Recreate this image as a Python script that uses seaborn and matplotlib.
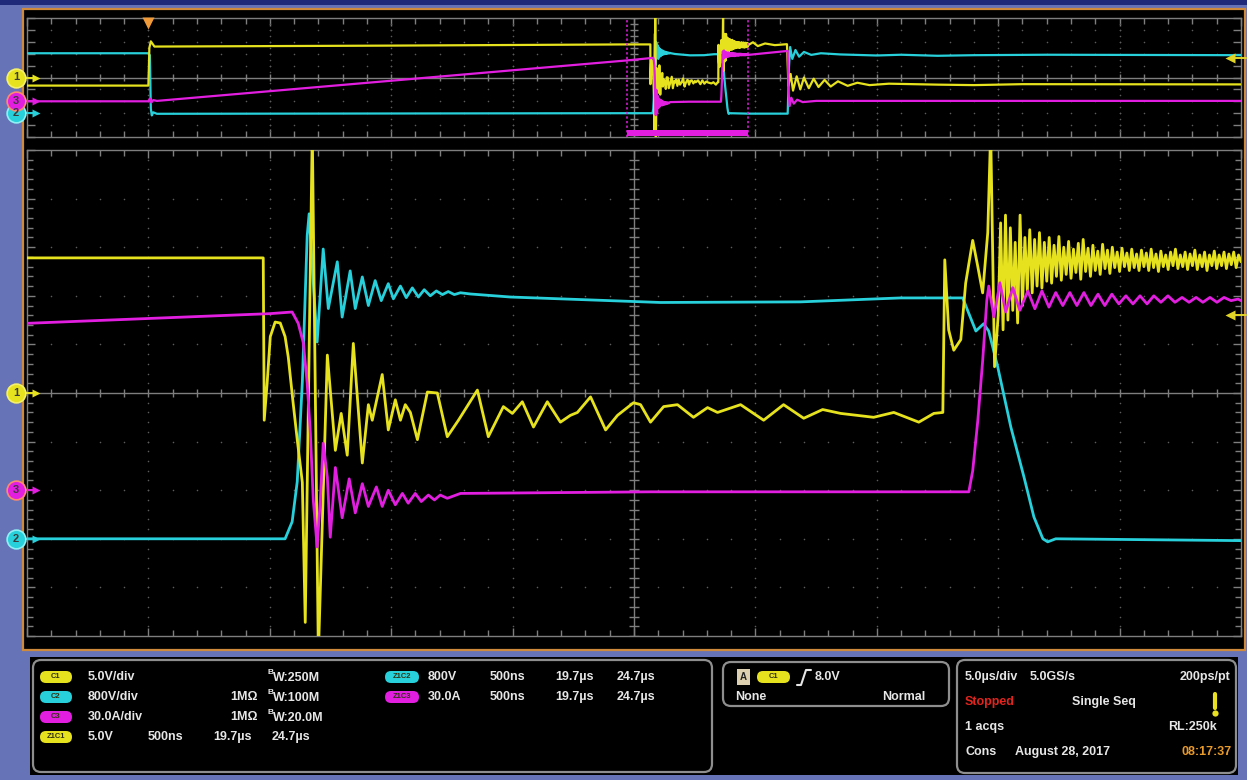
import matplotlib
matplotlib.use("Agg")
import matplotlib.pyplot as plt
import matplotlib.transforms as mtransforms
from matplotlib.patches import FancyBboxPatch, Rectangle
from matplotlib.ticker import MultipleLocator, NullLocator
import numpy as np
import pandas as pd
import seaborn as sns

sns.set_style("dark")
plt.rcParams["font.family"] = ["Liberation Sans", "DejaVu Sans"]

# ---------------------------------------------------------------------------
# Acquisition settings
# ---------------------------------------------------------------------------
ch_scale = {"C1": 5.0, "C2": 800.0, "C3": 30.0}        # V/div, V/div, A/div
ch_offset_div = {"C1": 0.0, "C2": -3.0, "C3": -2.0}    # ground marker position
ch_color = {"C1": "#e6e21e", "C2": "#27d0da", "C3": "#e21fe0"}
record_us = (-5.0, 45.0)            # 5 us/div, trigger one division in
zoom_start_us, zoom_stop_us = 19.7, 24.7
zoom_span_ns = 5000.0               # 500 ns/div
trigger_level_v = 8.0

# ---------------------------------------------------------------------------
# Zoomed window (time in ns from zoom start)
# ---------------------------------------------------------------------------
# C1: gate voltage [V]
c1_edges = [
    (0, 13.9), (973, 13.9), (977, -2.8), (989, 1.0), (1002, 5.8), (1022, 7.3),
    (1043, 7.2), (1063, 5.8), (1076, 3.7), (1096, -1.0), (1113, -4.8),
    (1134, -9.2), (1146, -23.6), (1175, 27.0), (1200, -27.0), (1237, 3.9),
    (1270, -5.9), (1294, -2.1), (1319, -6.4), (1344, 5.1), (1381, -7.2),
    (1406, -1.2), (1422, -2.8), (1463, 1.9), (1488, -3.8), (1517, -0.7),
    (1538, -2.8), (1558, -1.2), (1579, -2.0), (1608, -4.8), (1649, 0.1),
    (1690, 0.0), (1731, -4.5), (1777, -2.8), (1855, 0.3), (1900, -4.5),
    (1962, -1.4), (1999, -2.1), (2040, -0.9), (2086, -3.5), (2143, -0.9),
    (2197, -3.0), (2238, -2.3), (2267, -2.0), (2321, -0.4), (2383, -3.8),
    (2432, -2.3), (2498, -1.0), (2527, -1.2), (2568, -3.0), (2622, -1.4),
    (2679, -1.2), (2745, -2.5), (2803, -1.5), (2844, -2.0), (2939, -1.2),
    (3034, -2.8), (3116, -1.2), (3199, -2.6), (3277, -1.7), (3351, -2.1),
    (3487, -2.5), (3570, -2.0), (3673, -3.0), (3735, -2.1), (3772, -2.0),
    (3780, 13.7), (3796, 6.5), (3817, 4.4), (3846, 5.5), (3866, 11.3),
    (3895, 15.7), (3916, 13.0), (3936, 10.3), (3957, 16.5), (3969, 27.0),
    (3985, 2.7),
]
c1_ring = [
    (4000, 8.0), (4010, 17.5), (4020, 6.5), (4030, 18.3), (4040, 7.5),
    (4050, 17.0), (4060, 8.5), (4070, 15.5), (4080, 7.2), (4090, 18.3),
    (4100, 9.0), (4110, 16.0), (4120, 10.5), (4130, 16.8), (4140, 10.3),
    (4150, 15.8), (4160, 11.0), (4170, 16.5), (4180, 10.8), (4190, 15.5),
    (4200, 11.5), (4210, 16.0), (4220, 11.3), (4230, 15.2), (4240, 12.0),
    (4250, 16.1), (4260, 11.6), (4270, 15.0), (4280, 12.2), (4290, 15.6),
    (4300, 11.8), (4310, 14.8), (4320, 12.4), (4330, 15.4), (4340, 11.7),
    (4350, 15.8), (4360, 12.5), (4370, 14.9), (4380, 12.0), (4390, 15.2),
    (4400, 12.6), (4410, 14.6), (4420, 12.2), (4430, 15.3), (4440, 12.8),
    (4450, 14.7), (4460, 12.3), (4470, 15.0), (4480, 12.9), (4490, 14.5),
    (4500, 12.5), (4510, 14.9), (4520, 13.0), (4530, 14.4), (4540, 12.6),
    (4550, 14.8), (4560, 12.9), (4570, 14.3), (4580, 12.6), (4590, 14.7),
    (4600, 13.0), (4610, 14.4), (4620, 12.6), (4630, 14.8), (4640, 12.9),
    (4650, 14.3), (4660, 12.5), (4670, 14.6), (4680, 13.0), (4690, 14.2),
    (4700, 12.7), (4710, 14.5), (4720, 13.1), (4730, 14.8), (4740, 12.8),
    (4750, 14.2), (4760, 13.0), (4770, 14.5), (4780, 12.7), (4790, 14.3),
    (4800, 13.1), (4810, 14.7), (4820, 12.7), (4830, 14.2), (4840, 13.0),
    (4850, 14.5), (4860, 12.6), (4870, 14.2), (4880, 13.1), (4890, 14.6),
    (4900, 12.8), (4910, 14.2), (4920, 13.1), (4930, 14.5), (4940, 12.8),
    (4950, 14.3), (4960, 13.2), (4970, 14.5), (4980, 12.9), (4990, 14.2),
    (5000, 13.5),
]
# C2: drain-source voltage [V]
c2_zoom = [
    (0, 0), (1063, 0), (1092, 280), (1113, 940), (1134, 2580), (1154, 4990),
    (1162, 5350), (1179, 4230), (1195, 3240), (1220, 4770), (1241, 3790),
    (1278, 4560), (1298, 3650), (1331, 4410), (1352, 3790), (1381, 4310),
    (1406, 3840), (1434, 4250), (1459, 3920), (1488, 4200), (1509, 3950),
    (1538, 4160), (1562, 3970), (1587, 4130), (1612, 3980), (1636, 4100),
    (1661, 4000), (1686, 4080), (1711, 4020), (1735, 4070), (1760, 4020),
    (1785, 4050), (1826, 4030), (1991, 3980), (2609, 3890), (3186, 3900),
    (3598, 3965), (3854, 3965), (3875, 3750), (3908, 3420), (3940, 3540),
    (3961, 3420), (3998, 2830), (4052, 1840), (4106, 1020), (4147, 360),
    (4184, 0), (4204, -50), (4237, 0), (5000, -30),
]
# C3: drain current [A]
c3_zoom = [
    (0, 103), (1002, 109), (1092, 110), (1117, 103), (1138, 91), (1154, 66),
    (1167, 35), (1179, -6), (1195, -35), (1208, -6), (1220, 29), (1237, 8),
    (1249, -29), (1270, 14), (1298, -17), (1327, 7), (1352, -14), (1381, 4),
    (1406, -10), (1439, 2), (1463, -10), (1488, 0), (1517, -9), (1546, -2),
    (1570, -8), (1599, -2), (1624, -7), (1653, -3), (1678, -6), (1702, -3),
    (1731, -5), (1785, -2), (2568, -1), (3879, -1), (3895, 12), (3916, 43),
    (3936, 80), (3953, 117), (3961, 126), (3982, 107), (4007, 128),
    (4031, 110), (4060, 125), (4089, 111), (4122, 123), (4151, 112),
    (4180, 123), (4209, 113), (4237, 122), (4266, 114), (4295, 122),
    (4324, 114), (4353, 122), (4382, 114), (4411, 121), (4439, 114),
    (4468, 121), (4497, 115), (4526, 120), (4555, 115), (4584, 120),
    (4613, 115), (4641, 120), (4670, 116), (4699, 120), (4728, 116),
    (4757, 119), (4786, 116), (4815, 119), (4843, 116), (4872, 119),
    (4901, 116), (4930, 119), (4959, 117), (4988, 118), (5000, 117),
]

# ---------------------------------------------------------------------------
# Full record outside the zoom window (time in us from trigger)
# ---------------------------------------------------------------------------
ov_c1_pre = [(-5.0, -3.4), (0.0, -3.4), (0.04, 12.5), (0.1, 15.2),
             (0.25, 13.0), (10.0, 13.4), (19.7, 13.9)]
ov_c1_post = [(24.7, 13.6), (24.9, 14.8), (25.1, 13.2), (25.4, 14.3),
              (25.8, 13.6), (26.3, 14.0), (26.36, -3.5), (26.45, 1.5),
              (26.55, -5.5), (26.7, 0.5), (26.85, -5.0), (27.0, 0.0),
              (27.2, -4.5), (27.4, -0.5), (27.6, -4.0), (27.85, -1.0),
              (28.1, -3.8), (28.4, -1.6), (28.8, -3.5), (29.2, -2.2),
              (29.7, -3.2), (30.5, -2.6), (32.5, -3.0), (34.0, -3.2),
              (36.0, -2.8), (45.0, -2.9)]
ov_c2_pre = [(-5.0, 4030), (0.0, 4030), (0.06, 3900), (0.1, 300),
             (0.14, -150), (0.2, 60), (0.35, -40), (19.7, 0)]
ov_c2_post = [(24.7, -30), (26.33, -30), (26.38, 3000), (26.43, 4450),
              (26.52, 3650), (26.65, 4250), (26.8, 3800), (27.0, 4120),
              (27.3, 3920), (27.7, 4030), (28.5, 3950), (30.0, 3880),
              (31.0, 3930), (32.5, 3860), (34.0, 3900), (37.0, 3930),
              (45.0, 3900)]
ov_c3_pre = [(-5.0, 0.0), (0.0, 0.0), (0.06, 7.0), (0.12, -3.0),
             (0.2, 3.0), (0.35, 1.0), (19.7, 103)]
ov_c3_post = [(24.7, 117), (26.33, 127), (26.37, 20), (26.41, -12),
              (26.48, 9), (26.58, -6), (26.72, 4), (26.95, -2), (27.5, 1),
              (45.0, 1)]

# ---------------------------------------------------------------------------
# Readout text
# ---------------------------------------------------------------------------
readout_rows = [
    ("C1", "C1", "5.0V/div", "", "250M"),
    ("C2", "C2", "800V/div", "1MΩ", "100M"),
    ("C3", "C3", "30.0A/div", "1MΩ", "20.0M"),
]
zoom_rows = [("C1", "Z1C1", "5.0V"), ("C2", "Z1C2", "800V"), ("C3", "Z1C3", "30.0A")]
zoom_texts = ("500ns", "19.7µs", "24.7µs")

# ---------------------------------------------------------------------------
W, H = 1247, 780
BG = "#6673b6"
TXT = "#e6e6e6"
GRID = "#7e7e7e"
DOT = "#5c5c5c"

fig = plt.figure(figsize=(W / 100, H / 100), dpi=100, facecolor=BG)


def rect(x0, y0, x1, y1):
    return [x0 / W, 1 - y1 / H, (x1 - x0) / W, (y1 - y0) / H]


ax_bg = fig.add_axes([0, 0, 1, 1], zorder=0)
ax_bg.set_xlim(0, W)
ax_bg.set_ylim(H, 0)
ax_bg.axis("off")
ax_bg.add_patch(Rectangle((0, 0), W, 5, fc="#1f2a78", ec="none"))
ax_bg.add_patch(Rectangle((23, 9), 1222, 641, fc="black", ec="#d08a3c", lw=1.6))
ax_bg.add_patch(Rectangle((30, 657), 1208, 118, fc="black", ec="none"))

ax_ov = fig.add_axes(rect(27, 18, 1241, 137), zorder=2)
ax_main = fig.add_axes(rect(27, 150, 1241, 636), zorder=2)


def graticule(ax, x0, x1, minor_x, minor_y, dot_dx, dot_dy, tick_x, tick_y):
    xdiv = (x1 - x0) / 10
    ax.set_facecolor("black")
    ax.grid(False)
    for s in ax.spines.values():
        s.set_color(GRID)
        s.set_linewidth(1.0)
    ax.xaxis.set_major_locator(MultipleLocator(xdiv))
    ax.xaxis.set_minor_locator(MultipleLocator(minor_x))
    ax.yaxis.set_major_locator(MultipleLocator(1))
    if minor_y:
        ax.yaxis.set_minor_locator(MultipleLocator(minor_y))
    else:
        ax.yaxis.set_minor_locator(NullLocator())
    ax.tick_params(which="both", direction="in", top=True, right=True,
                   bottom=True, left=True, color=GRID, width=1,
                   labelbottom=False, labelleft=False)
    ax.tick_params(which="major", length=6)
    ax.tick_params(which="minor", length=4)
    xc = x0 + 5 * xdiv
    xs_major = x0 + xdiv * np.arange(1, 10)
    ys_major = np.arange(-4, 5)
    ydots = np.arange(-5, 5.0001, dot_dy)
    xdots = np.arange(x0, x1 + 1e-9, dot_dx)
    ax.scatter(np.repeat(xs_major, len(ydots)), np.tile(ydots, len(xs_major)),
               s=1.3, c=DOT, lw=0, zorder=1)
    ax.scatter(np.tile(xdots, len(ys_major)), np.repeat(ys_major, len(xdots)),
               s=1.3, c=DOT, lw=0, zorder=1)
    ax.axhline(0, color=GRID, lw=1, zorder=1)
    ax.axvline(xc, color=GRID, lw=1, zorder=1)
    ax.vlines(xdots, -tick_y, tick_y, color=GRID, lw=1, zorder=1)
    ax.hlines(ydots, xc - tick_x, xc + tick_x, color=GRID, lw=1, zorder=1)


def to_div(ch, values):
    return np.asarray(values, dtype=float) / ch_scale[ch] + ch_offset_div[ch]


zoom_data = {"C1": c1_edges + c1_ring, "C2": c2_zoom, "C3": c3_zoom}
overview_parts = {"C1": (ov_c1_pre, ov_c1_post),
                  "C2": (ov_c2_pre, ov_c2_post),
                  "C3": (ov_c3_pre, ov_c3_post)}
draw_order = ["C2", "C1", "C3"]

main_frames, ov_frames = [], []
for ch in draw_order:
    t, v = zip(*zoom_data[ch])
    main_frames.append(pd.DataFrame({"t": t, "div": to_div(ch, v), "ch": ch}))
    pre, post = overview_parts[ch]
    tp, vp = zip(*pre)
    tq, vq = zip(*post)
    t_all = list(tp) + [zoom_start_us + ti / 1000.0 for ti in t] + list(tq)
    v_all = list(vp) + list(v) + list(vq)
    ov_frames.append(pd.DataFrame({"t": t_all, "div": to_div(ch, v_all), "ch": ch}))
df_main = pd.concat(main_frames, ignore_index=True)
df_ov = pd.concat(ov_frames, ignore_index=True)

sns.lineplot(data=df_main, x="t", y="div", hue="ch", hue_order=draw_order,
             palette=ch_color, estimator=None, sort=False, legend=False,
             lw=2.0, ax=ax_main, zorder=3)
sns.lineplot(data=df_ov, x="t", y="div", hue="ch", hue_order=draw_order,
             palette=ch_color, estimator=None, sort=False, legend=False,
             lw=1.6, ax=ax_ov, zorder=3)

for ax in (ax_main, ax_ov):
    ax.set_xlabel("")
    ax.set_ylabel("")

graticule(ax_main, 0, zoom_span_ns, 100, 0.2, 100, 0.2, 20, 0.08)
graticule(ax_ov, record_us[0], record_us[1], 1.0, None, 1.0, 0.5, 0.17, 0.33)
ax_main.set_xlim(0, zoom_span_ns)
ax_main.set_ylim(-5, 5)
ax_ov.set_xlim(*record_us)
ax_ov.set_ylim(-5, 5)

# zoom window brackets on the full record
mag = ch_color["C3"]
for tz in (zoom_start_us, zoom_stop_us):
    ax_ov.axvline(tz, color=mag, lw=1.1, ls=(0, (1.5, 1.5)), zorder=4)
ax_ov.fill_between([zoom_start_us, zoom_stop_us], -4.95, -4.45, color=mag,
                   lw=0, zorder=4)
# trigger position
ax_ov.plot([0], [4.55], marker="v", ms=8, color="#f09a3a", mec="none",
           clip_on=False, zorder=6)

# ---------------------------------------------------------------------------
# Overlay: channel markers and readout
# ---------------------------------------------------------------------------
ax_fg = fig.add_axes([0, 0, 1, 1], zorder=5)
ax_fg.set_xlim(0, W)
ax_fg.set_ylim(H, 0)
ax_fg.axis("off")
ax_fg.set_autoscale_on(False)

marker_edge = {"C1": "#f4f06a", "C2": "#8ef0f4", "C3": "#ff8a70"}
for ax in (ax_main, ax_ov):
    blend = mtransforms.blended_transform_factory(ax_fg.transData, ax.transData)
    for ch in ["C1", "C2", "C3"]:
        yd = ch_offset_div[ch]
        col = ch_color[ch]
        ax_fg.plot([24, 36], [yd, yd], color=col, lw=1.4, transform=blend)
        ax_fg.plot([36], [yd], marker=">", ms=6, color=col, mec="none",
                   transform=blend)
        ax_fg.plot([16], [yd], marker="o", ms=13.5, color=col,
                   mec=marker_edge[ch], mew=1.2, transform=blend)
        ax_fg.text(16, yd, ch[-1], transform=blend, ha="center", va="center",
                   fontsize=8, color="#3a3a3a", fontweight="bold")
    ytrig = to_div("C1", [trigger_level_v])[0]
    ax_fg.plot([1230, 1246], [ytrig, ytrig], color="#e0d428", lw=1.4,
               transform=blend)
    ax_fg.plot([1230], [ytrig], marker="<", ms=7, color="#e0d428", mec="none",
               transform=blend)

# readout boxes
for (x0, y0, x1, y1) in [(33, 660, 712, 772), (723, 662, 949, 706),
                         (957, 660, 1236, 773)]:
    ax_fg.add_patch(FancyBboxPatch((x0, y0), x1 - x0, y1 - y0,
                                   boxstyle="round,pad=0,rounding_size=8",
                                   fc="black", ec="#8e8e8e", lw=1.6))


def pill(x0, yc, label, ch, w=32):
    ax_fg.add_patch(FancyBboxPatch((x0, yc - 6), w, 12,
                                   boxstyle="round,pad=0,rounding_size=6",
                                   fc=ch_color[ch], ec="none"))
    ax_fg.text(x0 + w / 2, yc, label, ha="center", va="center", fontsize=5.5,
               color="#303010", fontweight="bold")


def txt(x, y, s, color=TXT, ha="left", size=9):
    ax_fg.text(x, y, s, ha=ha, va="center", fontsize=size, color=color,
               fontweight="bold")


row_y = [677, 697, 717, 737]
for (ch, lab, scale_txt, imp, bw), yc in zip(readout_rows, row_y):
    pill(40, yc, lab, ch)
    txt(88, yc, scale_txt)
    if imp:
        txt(230, yc, imp)
    txt(268, yc - 4, "B", size=6)
    txt(273, yc + 1, "W:" + bw)

z_ch, z_lab, z_amp = zoom_rows[0]
pill(40, row_y[3], z_lab, z_ch)
txt(88, row_y[3], z_amp)
for x, s in zip((148, 213, 272), zoom_texts):
    txt(x, row_y[3], s)
for (ch, lab, amp), yc in zip(zoom_rows[1:], row_y[:2]):
    pill(385, yc, lab, ch, w=34)
    txt(428, yc, amp)
    for x, s in zip((490, 555, 617), zoom_texts):
        txt(x, yc, s)

# trigger box
ax_fg.add_patch(Rectangle((737, 669), 13, 16, fc="#ddd0b0", ec="none"))
ax_fg.text(743.5, 677, "A", ha="center", va="center", fontsize=7,
           color="#202020", fontweight="bold")
pill(757, 677, "C1", "C1", w=33)
ax_fg.plot([797, 801, 806, 811], [685, 685, 670, 670], color=TXT, lw=1.5)
txt(815, 677, f"{trigger_level_v:.1f}V")
txt(735, 697, "None")
txt(925, 697, "Normal", ha="right")

# acquisition box
txt(965, 677, "5.0µs/div")
txt(1030, 677, "5.0GS/s")
txt(1230, 677, "200ps/pt", ha="right")
txt(965, 702, "Stopped", color="#e2241e")
txt(1072, 702, "Single Seq")
ax_fg.plot([1215, 1215], [694, 708], color="#e8e020", lw=3.0,
           solid_capstyle="round")
ax_fg.plot([1215], [713], marker="o", ms=4.5, color="#e8e020", mec="none")
txt(965, 727, "1 acqs")
txt(1168, 727, "RL:250k")
txt(965, 752, "Cons")
txt(1015, 752, "August 28, 2017")
txt(1232, 752, "08:17:37", color="#e89a2a", ha="right")

fig.savefig("out.png", dpi=100, facecolor=BG)
